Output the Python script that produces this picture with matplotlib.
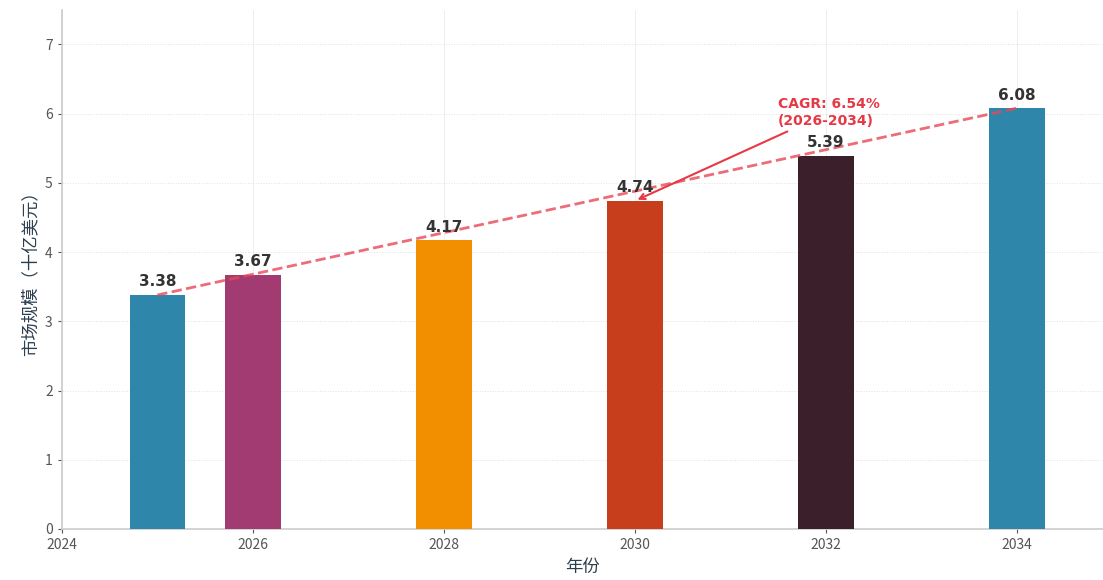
import matplotlib.pyplot as plt

plt.rcParams['font.family'] = ['Noto Sans CJK SC', 'DejaVu Sans']

years = [2025, 2026, 2028, 2030, 2032, 2034]
values = [3.38, 3.67, 4.17, 4.74, 5.39, 6.08]
colors = ['#2E86AB', '#A23B72', '#F18F01', '#C73E1D', '#3B1F2B', '#2E86AB']
xticks = [2024, 2026, 2028, 2030, 2032, 2034]
cagr_text = 'CAGR: 6.54%\n(2026-2034)'

fig = plt.figure(figsize=(11.03, 5.8), dpi=100)
ax = fig.add_axes([0.056, 0.088, 0.944, 0.895])

ax.bar(years, values, width=0.58, color=colors, zorder=3)
for x, v in zip(years, values):
    ax.text(x, v + 0.08, f'{v:.2f}', ha='center', va='bottom',
            fontsize=11, fontweight='bold', color='#333333',
            family='DejaVu Sans', zorder=5)

# trend line between first and last point
ax.plot([years[0], years[-1]], [values[0], values[-1]], '--',
        color='#E84855', alpha=0.8, linewidth=2, zorder=4)

ax.annotate(cagr_text, xy=(years[3], values[3]), xytext=(2031.5, 5.8),
            fontsize=10, fontweight='bold', color='#E63946',
            family='DejaVu Sans', ha='left', va='bottom',
            arrowprops=dict(arrowstyle='->', color='#E63946', lw=1.5),
            zorder=6)

ax.set_xlim(2024, 2034.9)
ax.set_ylim(0, 7.5)
ax.set_xticks(xticks)
ax.set_yticks(range(8))
ax.tick_params(colors='#555555', labelsize=10, length=3)

ax.set_xlabel('年份', fontsize=12.5, color='#2C3E50')
ax.set_ylabel('市场规模（十亿美元）', fontsize=12.5, color='#2C3E50')

ax.grid(True, color='#dddddd', alpha=0.5, linewidth=0.7, zorder=0)
ax.grid(axis='y', linestyle=':', color='#cccccc', alpha=0.6)
for s in ['top', 'right']:
    ax.spines[s].set_visible(False)
for s in ['left', 'bottom']:
    ax.spines[s].set_color('#cccccc')
    ax.spines[s].set_linewidth(1.2)

fig.savefig('out.png', dpi=100)
